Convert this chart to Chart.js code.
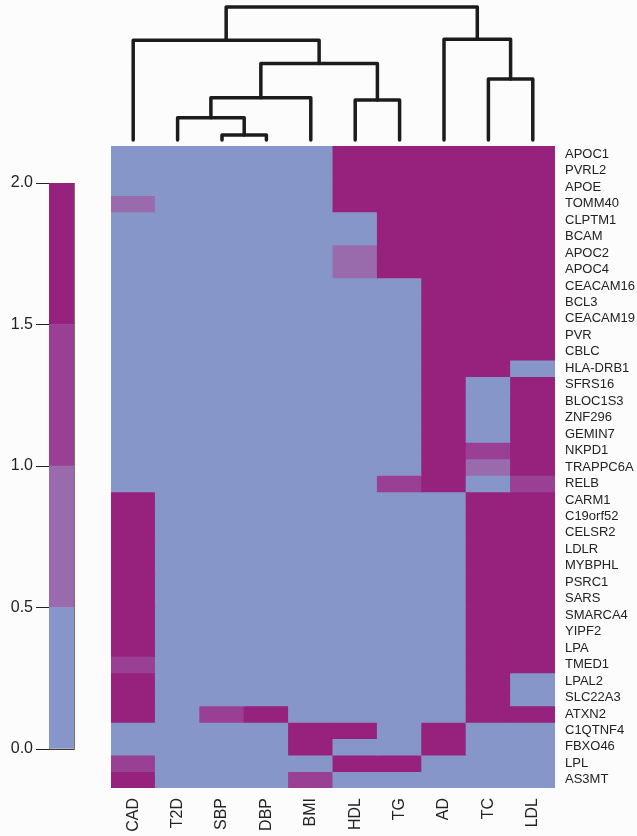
<!DOCTYPE html>
<html><head><meta charset="utf-8">
<script src="https://cdn.jsdelivr.net/npm/chart.js@4.4.1/dist/chart.umd.min.js"></script>
<style>
html,body{margin:0;padding:0;background:#fcfcfd;}
#wrap{position:relative;width:637px;height:836px;overflow:hidden;background:#fcfcfd;}
canvas{position:absolute;left:0;top:0;}
</style></head><body>
<div id="wrap">
<canvas id="heat" width="637" height="836"></canvas>
<canvas id="dend" width="637" height="836"></canvas>
<canvas id="key" width="637" height="836"></canvas>
</div>
<script>
// ---- data ----
const traits = ['CAD','T2D','SBP','DBP','BMI','HDL','TG','AD','TC','LDL'];
const genes = ['APOC1','PVRL2','APOE','TOMM40','CLPTM1','BCAM','APOC2','APOC4','CEACAM16','BCL3',
  'CEACAM19','PVR','CBLC','HLA-DRB1','SFRS16','BLOC1S3','ZNF296','GEMIN7','NKPD1','TRAPPC6A',
  'RELB','CARM1','C19orf52','CELSR2','LDLR','MYBPHL','PSRC1','SARS','SMARCA4','YIPF2',
  'LPA','TMED1','LPAL2','SLC22A3','ATXN2','C1QTNF4','FBXO46','LPL','AS3MT'];
// values per trait, in gene order (top to bottom)
const CAD = [0,0,0,0.75,0,0,0,0,0,0, 0,0,0,0,0,0,0,0,0,0, 0,2,2,2,2,2,2,2,2,2, 2,1.25,2,2,2,0,0,1.25,2];
const T2D = [0,0,0,0,0,0,0,0,0,0, 0,0,0,0,0,0,0,0,0,0, 0,0,0,0,0,0,0,0,0,0, 0,0,0,0,0,0,0,0,0];
const SBP = [0,0,0,0,0,0,0,0,0,0, 0,0,0,0,0,0,0,0,0,0, 0,0,0,0,0,0,0,0,0,0, 0,0,0,0,1.25,0,0,0,0];
const DBP = [0,0,0,0,0,0,0,0,0,0, 0,0,0,0,0,0,0,0,0,0, 0,0,0,0,0,0,0,0,0,0, 0,0,0,0,2,0,0,0,0];
const BMI = [0,0,0,0,0,0,0,0,0,0, 0,0,0,0,0,0,0,0,0,0, 0,0,0,0,0,0,0,0,0,0, 0,0,0,0,0,2,2,0,1.25];
const HDL = [2,2,2,2,0,0,0.75,0.75,0,0, 0,0,0,0,0,0,0,0,0,0, 0,0,0,0,0,0,0,0,0,0, 0,0,0,0,0,2,0,2,0];
const TG  = [2,2,2,2,2,2,2,2,0,0, 0,0,0,0,0,0,0,0,0,0, 1.25,0,0,0,0,0,0,0,0,0, 0,0,0,0,0,0,0,2,0];
const AD  = [2,2,2,2,2,2,2,2,2,2, 2,2,2,2,2,2,2,2,2,2, 2,0,0,0,0,0,0,0,0,0, 0,0,0,0,0,2,2,0,0];
const TC  = [2,2,2,2,2,2,2,2,2,2, 2,2,2,2,0,0,0,0,1.25,0.75, 0,2,2,2,2,2,2,2,2,2, 2,2,2,2,2,0,0,0,0];
const LDL = [2,2,2,2,2,2,2,2,2,2, 2,2,2,0,2,2,2,2,2,2, 1.25,2,2,2,2,2,2,2,2,2, 2,2,0,0,2,0,0,0,0];
const traitValues = [CAD,T2D,SBP,DBP,BMI,HDL,TG,AD,TC,LDL];

// colour key
const keyBreaks = [0,0.5,1,1.5,2];
const keyTicks = [0,0.5,1,1.5,2];
const keyColors = ['#8796c8','#9a6bac','#993f94','#97227e'];

// column dendrogram (R hclust style: negative = leaf index (1-based), positive = earlier merge)
const mergeLeft   = [-3, -2, 2, -6, 3, -1, -9, -8, 6];
const mergeRight  = [-4,  1, -5, -7, 4,  5, -10, 7, 8];
const mergeHeight = [0.375, 1.67, 3.17, 3.0, 5.75, 7.5, 4.58, 7.58, 10];

const FONT = "'Liberation Sans', Arial, Helvetica, sans-serif";
const TXT = '#222222';

function colorFor(v){
  for (let k = keyBreaks.length - 2; k >= 0; k--) {
    if (v >= keyBreaks[k]) return keyColors[k];
  }
  return keyColors[0];
}

// ---- heatmap ----
const heatSets = genes.map((g, i) => ({
  label: g,
  data: traits.map(() => 1),
  backgroundColor: traits.map((t, j) => colorFor(traitValues[j][i])),
  borderWidth: 0,
  inflateAmount: 0.5,
  barPercentage: 1,
  categoryPercentage: 1,
  stack: 's'
}));

new Chart(document.getElementById('heat'), {
  type: 'bar',
  data: { labels: traits, datasets: heatSets },
  options: {
    responsive: false, animation: false,
    layout: { padding: { left: 111, top: 146, right: 0, bottom: 0 } },
    plugins: { legend: { display: false }, tooltip: { enabled: false } },
    scales: {
      x: {
        stacked: true,
        grid: { display: false, drawTicks: false },
        border: { display: false },
        ticks: { minRotation: 90, maxRotation: 90, padding: 10, color: TXT, autoSkip: false,
                 font: { family: FONT, size: 16 } },
        afterFit(s) { s.height = 48; }
      },
      y: { stacked: true, reverse: true, min: 0, max: genes.length, display: false },
      g: {
        type: 'category', labels: genes, position: 'right', offset: true,
        grid: { display: false, drawTicks: false },
        border: { display: false },
        ticks: { padding: 10, color: TXT, autoSkip: false, font: { family: FONT, size: 13 } },
        afterFit(s) { s.width = 82; }
      }
    }
  }
});

// ---- dendrogram ----
const mergeX = [], mergeH = [];
function nodeX(id){ return id < 0 ? (-id - 1) + 0.5 : mergeX[id - 1]; }
function nodeH(id){ return id < 0 ? 0 : mergeH[id - 1]; }
const dendSets = [];
for (let m = 0; m < mergeLeft.length; m++) {
  const a = mergeLeft[m], b = mergeRight[m], h = mergeHeight[m];
  const xa = nodeX(a), xb = nodeX(b);
  mergeX.push((xa + xb) / 2); mergeH.push(h);
  dendSets.push({
    data: [{x: xa, y: nodeH(a)}, {x: xa, y: h}, {x: xb, y: h}, {x: xb, y: nodeH(b)}],
    borderColor: '#1c1c1c', borderWidth: 3.5, pointRadius: 0, tension: 0, fill: false,
    borderJoinStyle: 'round', borderCapStyle: 'round', clip: false
  });
}
new Chart(document.getElementById('dend'), {
  type: 'line',
  data: { datasets: dendSets },
  options: {
    responsive: false, animation: false,
    layout: { padding: { left: 111, top: 7, right: 82, bottom: 696 } },
    plugins: { legend: { display: false }, tooltip: { enabled: false } },
    scales: {
      x: { type: 'linear', min: 0, max: traits.length, display: false },
      y: { type: 'linear', min: 0, max: 10, display: false }
    }
  }
});

// ---- colour key ----
const keySets = keyColors.map((c, k) => ({
  data: [keyBreaks[k + 1] - keyBreaks[k]],
  backgroundColor: c, borderWidth: 0, barPercentage: 1, categoryPercentage: 1, stack: 'k'
}));
const edge = '#4a3530';
new Chart(document.getElementById('key'), {
  type: 'bar',
  data: { labels: ['key'], datasets: keySets },
  options: {
    responsive: false, animation: false,
    layout: { padding: { left: 0, top: 183, right: 563, bottom: 87 } },
    plugins: { legend: { display: false }, tooltip: { enabled: false } },
    scales: {
      x: { stacked: true, ticks: { display: false }, grid: { drawOnChartArea: false, drawTicks: false },
           border: { display: true, color: edge, width: 1 }, afterFit(s) { s.height = 0; } },
      xt: { type: 'category', labels: ['key'], position: 'top', ticks: { display: false },
            grid: { drawOnChartArea: false, drawTicks: false },
            border: { display: true, color: edge, width: 1 }, afterFit(s) { s.height = 0; } },
      y: {
        stacked: true, min: keyBreaks[0], max: keyBreaks[keyBreaks.length - 1],
        afterBuildTicks(s) { s.ticks = keyTicks.map(v => ({ value: v })); },
        ticks: { padding: 3, color: TXT, font: { family: FONT, size: 16 },
                 callback: v => Number(v).toFixed(1) },
        grid: { drawOnChartArea: false, drawTicks: true, tickLength: 13, color: '#222', lineWidth: 1 },
        border: { display: true, color: edge, width: 1 },
        afterFit(s) { s.width = 49; }
      },
      yr: { type: 'linear', position: 'right', min: 0, max: 2, ticks: { display: false },
            grid: { drawOnChartArea: false, drawTicks: false },
            border: { display: true, color: '#8a6a5a', width: 1 }, afterFit(s) { s.width = 0; } }
    }
  }
});
</script>
</body></html>
